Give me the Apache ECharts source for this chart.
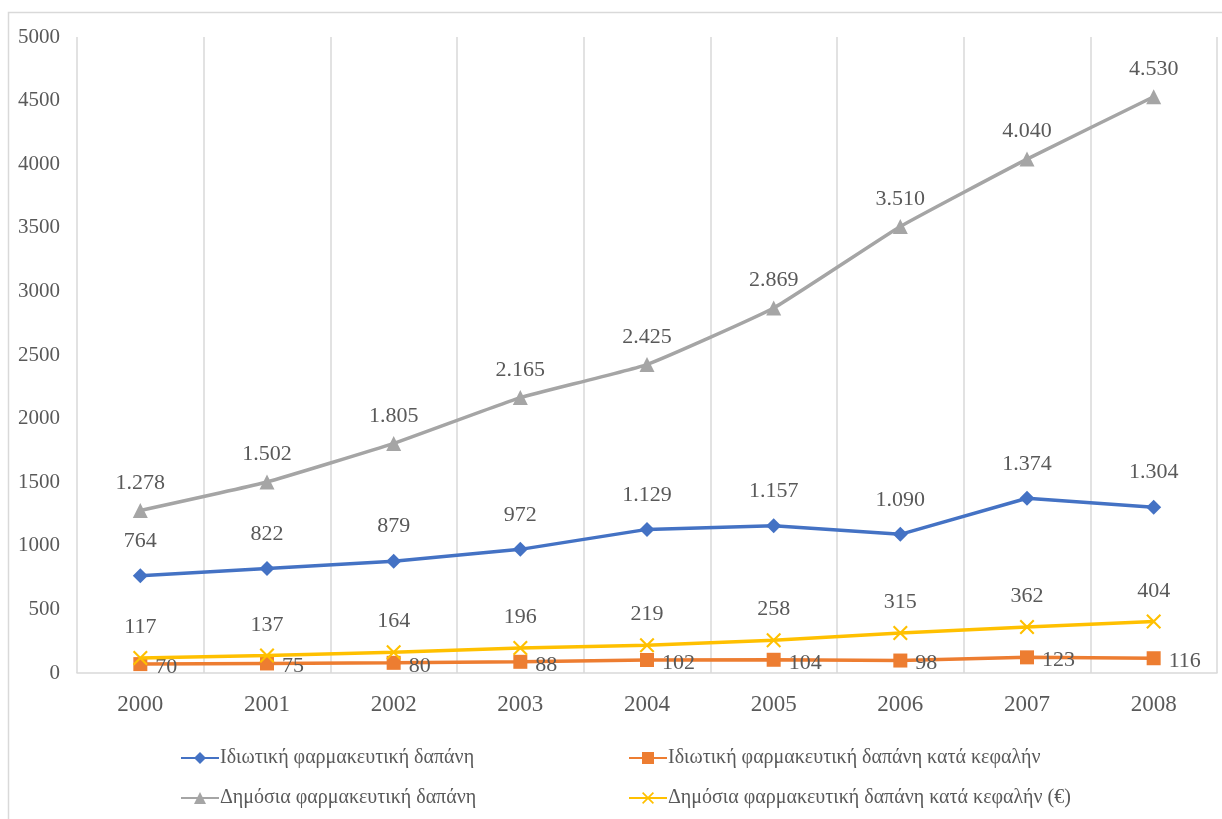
<!DOCTYPE html>
<html>
<head>
<meta charset="utf-8">
<script src="https://cdn.jsdelivr.net/npm/echarts@6/dist/echarts.min.js"></script>
<style>
  html, body { margin: 0; padding: 0; background: #fff; }
  #chart { width: 1222px; height: 819px; }
</style>
</head>
<body>
<div id="chart"></div>
<script>
// Years on the horizontal axis
const years = ['2000', '2001', '2002', '2003', '2004', '2005', '2006', '2007', '2008'];

// Series names
const namePrivate = 'Ιδιωτική φαρμακευτική δαπάνη';
const namePrivatePerCapita = 'Ιδιωτική φαρμακευτική δαπάνη κατά κεφαλήν';
const namePublic = 'Δημόσια φαρμακευτική δαπάνη';
const namePublicPerCapita = 'Δημόσια φαρμακευτική δαπάνη κατά κεφαλήν (€)';

// Values
const privateSpend = [764, 822, 879, 972, 1129, 1157, 1090, 1374, 1304];
const privatePerCapita = [70, 75, 80, 88, 102, 104, 98, 123, 116];
const publicSpend = [1278, 1502, 1805, 2165, 2425, 2869, 3510, 4040, 4530];
const publicPerCapita = [117, 137, 164, 196, 219, 258, 315, 362, 404];

// Value-axis ticks
const yMin = 0, yMax = 5000, yStep = 500;

const font = 'Liberation Serif, Times New Roman, serif';
const textGrey = '#595959';

// Greek-style thousands separator: 1.278
function fmtThousands(v) {
  return String(v).replace(/\B(?=(\d{3})+(?!\d))/g, '.');
}

const crossSymbol = 'path://M0,1 L1,0 L5,4 L9,0 L10,1 L6,5 L10,9 L9,10 L5,6 L1,10 L0,9 L4,5 Z';

const labelBase = {
  color: textGrey, fontFamily: font, fontSize: 22,
  formatter: p => fmtThousands(p.value)
};

const chart = echarts.init(document.getElementById('chart'), null, { renderer: 'canvas' });

chart.setOption({
  backgroundColor: '#fff',
  animation: false,
  graphic: [{
    type: 'rect',
    shape: { x: 8.5, y: 12.5, width: 1240, height: 840 },
    style: { fill: 'none', stroke: '#d9d9d9', lineWidth: 1.5 },
    silent: true,
    z: -10
  }],
  grid: { left: 77, right: 5, top: 37, bottom: 146 },
  xAxis: {
    type: 'category',
    data: years,
    boundaryGap: true,
    axisLine: { show: true, lineStyle: { color: '#d9d9d9', width: 1.5 } },
    axisTick: { show: false },
    splitLine: { show: true, lineStyle: { color: '#d9d9d9', width: 1.5 } },
    axisLabel: { color: textGrey, fontFamily: font, fontSize: 23, margin: 20 }
  },
  yAxis: {
    type: 'value',
    min: yMin, max: yMax, interval: yStep,
    axisLine: { show: false },
    axisTick: { show: false },
    splitLine: { show: false },
    axisLabel: { color: textGrey, fontFamily: font, fontSize: 21, margin: 17,
      formatter: v => String(v) }
  },
  legend: [
    {
      left: 175, top: 743, orient: 'vertical', itemGap: 20,
      itemWidth: 38, itemHeight: 15,
      data: [namePrivate, namePublic],
      textStyle: { color: textGrey, fontFamily: font, fontSize: 20, padding: [0, 0, 0, -4] }
    },
    {
      left: 623, top: 743, orient: 'vertical', itemGap: 20,
      itemWidth: 38, itemHeight: 15,
      data: [namePrivatePerCapita, namePublicPerCapita],
      textStyle: { color: textGrey, fontFamily: font, fontSize: 20, padding: [0, 0, 0, -4] }
    }
  ],
  series: [
    {
      name: namePrivate, type: 'line', data: privateSpend,
      smooth: false,
      symbol: 'diamond', symbolSize: 15,
      lineStyle: { color: '#4472C4', width: 3.5 },
      itemStyle: { color: '#4472C4' },
      label: Object.assign({ show: true, position: 'top', distance: 16 }, labelBase),
      z: 3
    },
    {
      name: namePrivatePerCapita, type: 'line', data: privatePerCapita,
      symbol: 'rect', symbolSize: 14,
      lineStyle: { color: '#ED7D31', width: 3.5 },
      itemStyle: { color: '#ED7D31' },
      label: Object.assign({ show: true, position: 'right', distance: 8, offset: [0, 3] }, labelBase),
      z: 2
    },
    {
      name: namePublic, type: 'line', data: publicSpend,
      smooth: 0.12,
      symbol: 'triangle', symbolSize: 15,
      lineStyle: { color: '#A5A5A5', width: 3.5 },
      itemStyle: { color: '#A5A5A5' },
      label: Object.assign({ show: true, position: 'top', distance: 9 }, labelBase),
      z: 3
    },
    {
      name: namePublicPerCapita, type: 'line', data: publicPerCapita,
      symbol: crossSymbol, symbolSize: 15,
      lineStyle: { color: '#FFC000', width: 3.5 },
      itemStyle: { color: '#FFC000' },
      label: Object.assign({ show: true, position: 'top', distance: 12 }, labelBase),
      z: 4
    }
  ]
});
</script>
</body>
</html>
